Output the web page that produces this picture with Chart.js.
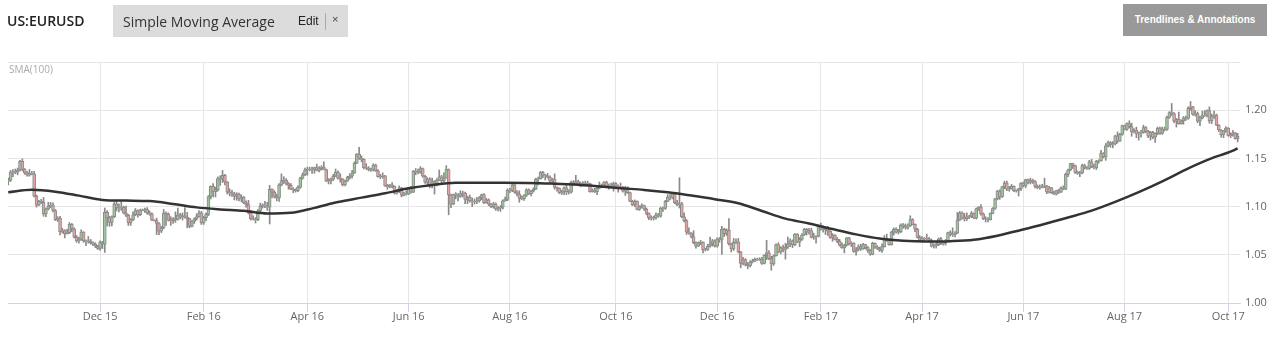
<!DOCTYPE html>
<html>
<head>
<meta charset="utf-8">
<script src="https://cdn.jsdelivr.net/npm/chart.js@4.4.0/dist/chart.umd.min.js"></script>
<style>
  body { margin: 0; background: #fff; font-family: "Open Sans", sans-serif; }
  #wrap { position: relative; width: 1282px; height: 349px; overflow: hidden; }
  #chart { position: absolute; left: 0; top: 0; }
  .symbol { position: absolute; left: 7px; top: 11px; font-size: 14px; font-weight: 600; color: #222; }
  .study { position: absolute; left: 113px; top: 5px; width: 235px; height: 32px; background: #dcdcdc; }
  .study .name { position: absolute; left: 10px; top: 7px; font-size: 14px; color: #333; }
  .study .edit { position: absolute; left: 185px; top: 9px; font: 12px "Liberation Sans", Arial, sans-serif; color: #222; }
  .study .sep { position: absolute; left: 212px; top: 8px; width: 1px; height: 17px; background: #aaa; }
  .study .close { position: absolute; left: 219px; top: 8px; font: 11px "Liberation Sans", Arial, sans-serif; color: #444; }
  .btn { position: absolute; left: 1123px; top: 4px; width: 144px; height: 32px; background: #999; color: #fff;
         font: bold 10px "Liberation Sans", Arial, sans-serif; line-height: 32px; text-align: center; }
  .sma-tag { position: absolute; left: 9px; top: 62px; font-size: 10px; color: #aaa; }
</style>
</head>
<body>
<div id="wrap">
  <canvas id="chart" width="1282" height="349"></canvas>
  <div class="symbol">US:EURUSD</div>
  <div class="study"><span class="name">Simple Moving Average</span><span class="edit">Edit</span><span class="sep"></span><span class="close">×</span></div>
  <div class="btn">Trendlines &amp; Annotations</div>
  <div class="sma-tag">SMA(100)</div>
</div>
<script>
// daily EUR/USD candles, one line per month (Oct 7 2015 .. Oct 6 2017)
const opens = [
  1.1265,1.1275,1.1360,1.1355,1.1360,1.1380,1.1470,1.1385,1.1350,1.1325,1.1345,1.1340,1.1110,1.1015,1.1055,1.1045,1.0925,1.0975,
  1.1005,1.1015,1.0960,1.0865,1.0880,1.0740,1.0750,1.0720,1.0730,1.0815,1.0770,1.0685,1.0645,1.0660,1.0735,1.0645,1.0635,1.0645,1.0625,1.0610,1.0590,
  1.0565,1.0630,1.0610,1.0940,1.0885,1.0835,1.0895,1.1025,1.0990,1.0985,1.0995,1.0935,1.0910,1.0830,1.0865,1.0915,1.0960,1.0915,1.0965,1.0960,1.0970,1.0935,1.0925,
  1.0860,1.0855,1.0825,1.0745,1.0780,1.0930,1.0920,1.0860,1.0855,1.0875,1.0865,1.0915,1.0890,1.0905,1.0890,1.0875,1.0795,1.0845,1.0870,1.0895,1.0935,
  1.0830,1.0885,1.0920,1.1105,1.1210,1.1155,1.1175,1.1290,1.1285,1.1325,1.1255,1.1150,1.1145,1.1130,1.1105,1.1130,1.1080,1.1100,1.1040,1.1020,1.0935,
  1.0875,1.0870,1.0865,1.0955,1.1005,1.1015,1.1005,1.0995,1.1180,1.1150,1.1105,1.1090,1.1225,1.1270,1.1275,1.1240,1.1220,1.1180,1.1175,1.1165,1.1200,1.1295,1.1330,
  1.1380,1.1390,1.1385,1.1380,1.1405,1.1375,1.1400,1.1410,1.1385,1.1265,1.1270,1.1285,1.1315,1.1355,1.1295,1.1285,1.1225,1.1265,1.1300,1.1315,1.1350,
  1.1450,1.1545,1.1500,1.1490,1.1405,1.1400,1.1385,1.1380,1.1430,1.1370,1.1310,1.1315,1.1320,1.1215,1.1205,1.1225,1.1210,1.1140,1.1155,1.1195,1.1115,1.1140,
  1.1130,1.1190,1.1150,1.1365,1.1355,1.1360,1.1395,1.1315,1.1250,1.1285,1.1215,1.1260,1.1225,1.1275,1.1310,1.1270,1.1295,1.1385,1.1120,1.1025,1.1125,1.1130,
  1.1105,1.1135,1.1140,1.1075,1.1095,1.1060,1.1050,1.1055,1.1060,1.1090,1.1125,1.1040,1.1070,1.1025,1.1000,1.1025,1.0975,1.0990,1.0995,1.1060,1.1075,
  1.1170,1.1165,1.1225,1.1150,1.1130,1.1085,1.1080,1.1115,1.1175,1.1135,1.1160,1.1180,1.1285,1.1290,1.1355,1.1325,1.1320,1.1305,1.1265,1.1285,1.1200,1.1190,1.1145,
  1.1155,1.1195,1.1155,1.1150,1.1255,1.1235,1.1260,1.1230,1.1240,1.1220,1.1245,1.1240,1.1155,1.1170,1.1155,1.1190,1.1210,1.1225,1.1255,1.1210,1.1215,1.1220,
  1.1240,1.1210,1.1205,1.1200,1.1160,1.1200,1.1145,1.1055,1.1020,1.1055,1.0970,1.1000,1.1010,1.0975,1.0930,1.0885,1.0880,1.0885,1.0915,1.0900,1.0985,
  1.0980,1.1055,1.1100,1.1090,1.1135,1.1040,1.1020,1.1030,1.0895,1.0855,1.0735,1.0725,1.0690,1.0625,1.0590,1.0625,1.0630,1.0550,1.0555,1.0590,1.0615,1.0645,
  1.0590,1.0665,1.0660,1.0765,1.0720,1.0755,1.0615,1.0560,1.0630,1.0635,1.0530,1.0410,1.0450,1.0400,1.0385,1.0425,1.0435,1.0455,1.0450,1.0455,1.0410,1.0495,
  1.0520,1.0460,1.0405,1.0490,1.0605,1.0530,1.0575,1.0555,1.0580,1.0615,1.0645,1.0605,1.0715,1.0630,1.0660,1.0705,1.0765,1.0735,1.0750,1.0680,1.0695,1.0690,
  1.0800,1.0765,1.0760,1.0785,1.0745,1.0680,1.0705,1.0660,1.0640,1.0600,1.0575,1.0600,1.0675,1.0615,1.0620,1.0535,1.0555,1.0585,1.0560,1.0605,
  1.0575,1.0545,1.0505,1.0620,1.0580,1.0565,1.0545,1.0585,1.0670,1.0655,1.0605,1.0735,1.0765,1.0735,1.0740,1.0810,1.0795,1.0785,1.0800,1.0865,1.0815,1.0765,1.0680,
  1.0650,1.0665,1.0670,1.0665,1.0645,1.0590,1.0595,1.0605,1.0665,1.0615,1.0620,1.0645,1.0730,1.0715,1.0710,1.0725,1.0860,1.0935,1.0880,1.0875,
  1.0895,1.0900,1.0930,1.0880,1.0980,1.0995,1.0925,1.0875,1.0870,1.0865,1.0930,1.0980,1.1080,1.1160,1.1100,1.1205,1.1245,1.1180,1.1185,1.1210,1.1165,1.1170,1.1185,
  1.1245,1.1215,1.1280,1.1250,1.1275,1.1260,1.1210,1.1195,1.1200,1.1210,1.1215,1.1150,1.1195,1.1145,1.1130,1.1165,1.1150,1.1195,1.1180,1.1335,1.1380,1.1445,
  1.1425,1.1355,1.1345,1.1350,1.1425,1.1400,1.1395,1.1465,1.1415,1.1400,1.1470,1.1475,1.1555,1.1515,1.1630,1.1665,1.1645,1.1650,1.1735,1.1680,1.1750,
  1.1840,1.1800,1.1860,1.1830,1.1775,1.1790,1.1755,1.1765,1.1770,1.1820,1.1780,1.1730,1.1770,1.1720,1.1760,1.1815,1.1760,1.1805,1.1800,1.1925,1.1975,1.1965,1.1885,
  1.1905,1.1860,1.1890,1.1920,1.1915,1.2020,1.2035,1.1955,1.1965,1.1885,1.1920,1.1945,1.1950,1.1995,1.1890,1.1940,1.1950,1.1845,1.1795,1.1745,1.1785,
  1.1815,1.1735,1.1745,1.1765,1.1705
];
const highs = [
  1.1295,1.1375,1.1385,1.1390,1.1400,1.1480,1.1495,1.1395,1.1365,1.1385,1.1365,1.1365,1.1120,1.1065,1.1075,1.1095,1.0985,1.1045,
  1.1045,1.1040,1.0970,1.0895,1.0900,1.0775,1.0760,1.0765,1.0835,1.0825,1.0780,1.0700,1.0685,1.0760,1.0740,1.0655,1.0690,1.0660,1.0635,1.0625,1.0600,
  1.0645,1.0640,1.0985,1.0960,1.0900,1.0905,1.1045,1.1060,1.1030,1.1050,1.1005,1.1005,1.0920,1.0875,1.0945,1.0980,1.0965,1.0975,1.0975,1.0985,1.0990,1.0955,1.0935,
  1.0865,1.0880,1.0835,1.0795,1.0970,1.0945,1.0935,1.0895,1.0885,1.0945,1.0985,1.0930,1.0935,1.0990,1.0940,1.0880,1.0855,1.0885,1.0925,1.0960,1.0950,
  1.0900,1.0935,1.1115,1.1215,1.1240,1.1200,1.1310,1.1320,1.1375,1.1335,1.1260,1.1185,1.1170,1.1150,1.1145,1.1140,1.1120,1.1105,1.1060,1.1065,1.0960,
  1.0905,1.0885,1.0970,1.1035,1.1030,1.1055,1.1045,1.1220,1.1185,1.1165,1.1130,1.1240,1.1340,1.1310,1.1290,1.1250,1.1240,1.1195,1.1185,1.1215,1.1305,1.1350,1.1400,
  1.1410,1.1410,1.1410,1.1410,1.1440,1.1415,1.1425,1.1465,1.1390,1.1290,1.1295,1.1335,1.1390,1.1370,1.1340,1.1290,1.1275,1.1315,1.1340,1.1375,1.1465,
  1.1550,1.1615,1.1525,1.1495,1.1445,1.1415,1.1400,1.1445,1.1440,1.1385,1.1335,1.1350,1.1325,1.1230,1.1230,1.1250,1.1215,1.1175,1.1215,1.1200,1.1150,1.1165,
  1.1200,1.1210,1.1375,1.1395,1.1390,1.1415,1.1400,1.1325,1.1300,1.1300,1.1295,1.1270,1.1290,1.1380,1.1325,1.1350,1.1425,1.1390,1.1130,1.1130,1.1145,1.1135,
  1.1165,1.1160,1.1150,1.1110,1.1120,1.1090,1.1080,1.1095,1.1105,1.1130,1.1135,1.1085,1.1080,1.1035,1.1045,1.1040,1.1000,1.1010,1.1070,1.1100,1.1185,
  1.1190,1.1235,1.1230,1.1165,1.1165,1.1110,1.1125,1.1185,1.1185,1.1170,1.1195,1.1295,1.1305,1.1365,1.1365,1.1335,1.1345,1.1320,1.1295,1.1340,1.1205,1.1195,1.1170,
  1.1205,1.1240,1.1175,1.1265,1.1270,1.1325,1.1275,1.1255,1.1260,1.1265,1.1265,1.1245,1.1185,1.1190,1.1210,1.1255,1.1235,1.1260,1.1265,1.1235,1.1245,1.1255,
  1.1250,1.1225,1.1245,1.1210,1.1210,1.1205,1.1150,1.1065,1.1070,1.1060,1.1010,1.1030,1.1015,1.0985,1.0935,1.0905,1.0900,1.0935,1.0930,1.0995,1.0995,
  1.1065,1.1125,1.1125,1.1145,1.1140,1.1065,1.1300,1.1045,1.0935,1.0865,1.0780,1.0730,1.0750,1.0635,1.0635,1.0650,1.0635,1.0570,1.0610,1.0685,1.0660,1.0655,
  1.0675,1.0680,1.0795,1.0775,1.0770,1.0875,1.0620,1.0670,1.0665,1.0670,1.0535,1.0475,1.0460,1.0420,1.0440,1.0455,1.0465,1.0465,1.0470,1.0475,1.0500,1.0650,
  1.0545,1.0485,1.0500,1.0615,1.0625,1.0585,1.0600,1.0620,1.0685,1.0665,1.0655,1.0720,1.0720,1.0680,1.0720,1.0775,1.0775,1.0775,1.0775,1.0725,1.0700,1.0810,
  1.0830,1.0800,1.0790,1.0795,1.0750,1.0720,1.0710,1.0680,1.0660,1.0625,1.0610,1.0680,1.0680,1.0635,1.0625,1.0575,1.0605,1.0610,1.0620,1.0610,
  1.0585,1.0555,1.0630,1.0625,1.0595,1.0580,1.0615,1.0700,1.0715,1.0660,1.0745,1.0780,1.0780,1.0765,1.0820,1.0825,1.0820,1.0820,1.0905,1.0875,1.0820,1.0775,1.0700,
  1.0690,1.0680,1.0715,1.0680,1.0665,1.0615,1.0630,1.0675,1.0680,1.0625,1.0660,1.0735,1.0750,1.0780,1.0740,1.0940,1.0950,1.0945,1.0930,1.0935,
  1.0910,1.0950,1.0935,1.0985,1.1000,1.1020,1.0935,1.0895,1.0885,1.0935,1.0990,1.1085,1.1170,1.1175,1.1210,1.1265,1.1265,1.1210,1.1230,1.1215,1.1175,1.1190,1.1250,
  1.1255,1.1285,1.1285,1.1295,1.1285,1.1270,1.1225,1.1225,1.1230,1.1295,1.1220,1.1210,1.1200,1.1160,1.1170,1.1180,1.1205,1.1215,1.1350,1.1390,1.1450,1.1450,
  1.1430,1.1370,1.1365,1.1440,1.1440,1.1415,1.1480,1.1490,1.1440,1.1480,1.1485,1.1585,1.1560,1.1655,1.1680,1.1675,1.1675,1.1740,1.1775,1.1760,1.1845,
  1.1845,1.1870,1.1890,1.1865,1.1810,1.1825,1.1775,1.1790,1.1845,1.1830,1.1790,1.1780,1.1780,1.1765,1.1825,1.1825,1.1825,1.1825,1.1940,1.1985,1.2070,1.1975,1.1915,
  1.1980,1.1900,1.1935,1.1940,1.2035,1.2090,1.2040,1.1995,1.1980,1.1940,1.1990,1.1995,1.2005,1.2035,1.1960,1.1990,1.1960,1.1850,1.1800,1.1790,1.1830,
  1.1820,1.1765,1.1790,1.1770,1.1760
];
const lows = [
  1.1225,1.1260,1.1310,1.1340,1.1330,1.1370,1.1370,1.1335,1.1315,1.1315,1.1330,1.1100,1.0995,1.1010,1.1030,1.0900,1.0895,1.0965,
  1.0990,1.0945,1.0855,1.0845,1.0705,1.0725,1.0675,1.0715,1.0720,1.0740,1.0675,1.0630,1.0620,1.0650,1.0630,1.0595,1.0620,1.0610,1.0595,1.0575,1.0555,
  1.0545,1.0565,1.0525,1.0800,1.0795,1.0800,1.0885,1.0955,1.0945,1.0960,1.0925,1.0895,1.0805,1.0805,1.0855,1.0905,1.0890,1.0905,1.0955,1.0940,1.0920,1.0910,1.0855,
  1.0850,1.0710,1.0710,1.0730,1.0770,1.0805,1.0850,1.0805,1.0825,1.0835,1.0860,1.0875,1.0860,1.0880,1.0780,1.0780,1.0790,1.0825,1.0860,1.0890,1.0815,
  1.0815,1.0855,1.0905,1.1080,1.1100,1.1100,1.1160,1.1220,1.1250,1.1225,1.1130,1.1110,1.1105,1.1070,1.1065,1.1060,1.1050,1.1030,1.0995,1.0925,1.0860,
  1.0860,1.0830,1.0855,1.0935,1.0985,1.0990,1.0960,1.0820,1.1090,1.1090,1.1060,1.1055,1.1215,1.1240,1.1225,1.1180,1.1175,1.1145,1.1150,1.1155,1.1190,1.1285,1.1320,
  1.1325,1.1370,1.1345,1.1345,1.1370,1.1360,1.1380,1.1380,1.1260,1.1235,1.1235,1.1270,1.1310,1.1285,1.1255,1.1215,1.1215,1.1260,1.1285,1.1295,1.1345,
  1.1445,1.1490,1.1465,1.1390,1.1385,1.1370,1.1365,1.1370,1.1365,1.1305,1.1290,1.1295,1.1210,1.1180,1.1195,1.1195,1.1130,1.1130,1.1145,1.1100,1.1110,1.1120,
  1.1125,1.1140,1.1145,1.1330,1.1340,1.1345,1.1305,1.1240,1.1225,1.1195,1.1195,1.1130,1.1215,1.1270,1.1235,1.1255,1.1295,1.0915,1.0990,1.1020,1.1080,1.1060,
  1.1095,1.1100,1.1030,1.1030,1.1045,1.1000,1.1025,1.1030,1.1045,1.1070,1.1030,1.1035,1.1010,1.0990,1.0985,1.0960,1.0955,1.0950,1.0975,1.1055,1.1060,
  1.1145,1.1155,1.1140,1.1110,1.1045,1.1070,1.1065,1.1105,1.1125,1.1110,1.1150,1.1175,1.1225,1.1285,1.1300,1.1275,1.1295,1.1250,1.1250,1.1180,1.1160,1.1135,1.1125,
  1.1125,1.1125,1.1130,1.1140,1.1225,1.1230,1.1215,1.1205,1.1215,1.1215,1.1215,1.1150,1.1150,1.1145,1.1125,1.1185,1.1195,1.1205,1.1200,1.1180,1.1195,1.1160,
  1.1200,1.1150,1.1195,1.1150,1.1115,1.1135,1.1050,1.1010,1.1000,1.0965,1.0960,1.0985,1.0960,1.0915,1.0865,1.0860,1.0860,1.0870,1.0890,1.0890,1.0950,
  1.0970,1.1050,1.1070,1.1080,1.1030,1.1010,1.0985,1.0885,1.0840,1.0710,1.0715,1.0675,1.0615,1.0570,1.0585,1.0605,1.0520,1.0540,1.0545,1.0580,1.0590,1.0580,
  1.0580,1.0630,1.0505,1.0690,1.0700,1.0600,1.0530,1.0545,1.0615,1.0520,1.0365,1.0395,1.0385,1.0355,1.0375,1.0415,1.0430,1.0440,1.0440,1.0400,1.0405,1.0450,
  1.0450,1.0340,1.0390,1.0485,1.0520,1.0510,1.0530,1.0455,1.0565,1.0585,1.0575,1.0595,1.0625,1.0585,1.0650,1.0700,1.0705,1.0715,1.0675,1.0660,1.0620,1.0685,
  1.0755,1.0735,1.0710,1.0700,1.0670,1.0640,1.0655,1.0625,1.0590,1.0565,1.0520,1.0590,1.0600,1.0585,1.0525,1.0495,1.0540,1.0545,1.0555,1.0560,
  1.0525,1.0495,1.0500,1.0565,1.0555,1.0535,1.0525,1.0580,1.0640,1.0600,1.0600,1.0705,1.0725,1.0715,1.0730,1.0775,1.0765,1.0765,1.0795,1.0810,1.0740,1.0675,1.0640,
  1.0630,1.0635,1.0655,1.0635,1.0580,1.0570,1.0570,1.0595,1.0605,1.0600,1.0600,1.0635,1.0695,1.0690,1.0685,1.0720,1.0855,1.0870,1.0850,1.0855,
  1.0875,1.0885,1.0875,1.0870,1.0960,1.0910,1.0865,1.0840,1.0840,1.0860,1.0925,1.0970,1.1070,1.1075,1.1095,1.1185,1.1165,1.1160,1.1180,1.1155,1.1150,1.1110,1.1165,
  1.1205,1.1195,1.1235,1.1235,1.1240,1.1195,1.1185,1.1180,1.1195,1.1195,1.1135,1.1140,1.1135,1.1125,1.1120,1.1135,1.1145,1.1175,1.1175,1.1310,1.1370,1.1395,
  1.1345,1.1335,1.1310,1.1340,1.1390,1.1385,1.1385,1.1405,1.1390,1.1385,1.1450,1.1470,1.1505,1.1480,1.1620,1.1615,1.1610,1.1640,1.1660,1.1675,1.1740,
  1.1795,1.1790,1.1815,1.1730,1.1765,1.1715,1.1690,1.1720,1.1760,1.1765,1.1715,1.1690,1.1705,1.1665,1.1745,1.1750,1.1750,1.1785,1.1790,1.1915,1.1945,1.1870,1.1825,
  1.1855,1.1855,1.1855,1.1895,1.1905,1.2000,1.1945,1.1940,1.1870,1.1840,1.1910,1.1935,1.1930,1.1865,1.1860,1.1915,1.1840,1.1780,1.1720,1.1715,1.1770,
  1.1730,1.1715,1.1730,1.1700,1.1670
];
const closes = [
  1.1275,1.1360,1.1355,1.1360,1.1380,1.1470,1.1385,1.1350,1.1325,1.1345,1.1340,1.1110,1.1015,1.1055,1.1045,1.0925,1.0975,1.1005,
  1.1015,1.0960,1.0865,1.0880,1.0740,1.0750,1.0720,1.0730,1.0815,1.0770,1.0685,1.0645,1.0660,1.0735,1.0645,1.0635,1.0645,1.0625,1.0610,1.0590,1.0565,
  1.0630,1.0610,1.0940,1.0885,1.0835,1.0895,1.1025,1.0990,1.0985,1.0995,1.0935,1.0910,1.0830,1.0865,1.0915,1.0960,1.0915,1.0965,1.0960,1.0970,1.0935,1.0925,1.0860,
  1.0855,1.0825,1.0745,1.0780,1.0930,1.0920,1.0860,1.0855,1.0875,1.0865,1.0915,1.0890,1.0905,1.0890,1.0875,1.0795,1.0845,1.0870,1.0895,1.0935,1.0830,
  1.0885,1.0920,1.1105,1.1210,1.1155,1.1175,1.1290,1.1285,1.1325,1.1255,1.1150,1.1145,1.1130,1.1105,1.1130,1.1080,1.1100,1.1040,1.1020,1.0935,1.0875,
  1.0870,1.0865,1.0955,1.1005,1.1015,1.1005,1.0995,1.1180,1.1150,1.1105,1.1090,1.1225,1.1270,1.1275,1.1240,1.1220,1.1180,1.1175,1.1165,1.1200,1.1295,1.1330,1.1380,
  1.1390,1.1385,1.1380,1.1405,1.1375,1.1400,1.1410,1.1385,1.1265,1.1270,1.1285,1.1315,1.1355,1.1295,1.1285,1.1225,1.1265,1.1300,1.1315,1.1350,1.1450,
  1.1545,1.1500,1.1490,1.1405,1.1400,1.1385,1.1380,1.1430,1.1370,1.1310,1.1315,1.1320,1.1215,1.1205,1.1225,1.1210,1.1140,1.1155,1.1195,1.1115,1.1140,1.1130,
  1.1190,1.1150,1.1365,1.1355,1.1360,1.1395,1.1315,1.1250,1.1285,1.1215,1.1260,1.1225,1.1275,1.1310,1.1270,1.1295,1.1385,1.1120,1.1025,1.1125,1.1130,1.1105,
  1.1135,1.1140,1.1075,1.1095,1.1060,1.1050,1.1055,1.1060,1.1090,1.1125,1.1040,1.1070,1.1025,1.1000,1.1025,1.0975,1.0990,1.0995,1.1060,1.1075,1.1170,
  1.1165,1.1225,1.1150,1.1130,1.1085,1.1080,1.1115,1.1175,1.1135,1.1160,1.1180,1.1285,1.1290,1.1355,1.1325,1.1320,1.1305,1.1265,1.1285,1.1200,1.1190,1.1145,1.1155,
  1.1195,1.1155,1.1150,1.1255,1.1235,1.1260,1.1230,1.1240,1.1220,1.1245,1.1240,1.1155,1.1170,1.1155,1.1190,1.1210,1.1225,1.1255,1.1210,1.1215,1.1220,1.1240,
  1.1210,1.1205,1.1200,1.1160,1.1200,1.1145,1.1055,1.1020,1.1055,1.0970,1.1000,1.1010,1.0975,1.0930,1.0885,1.0880,1.0885,1.0915,1.0900,1.0985,1.0980,
  1.1055,1.1100,1.1090,1.1135,1.1040,1.1020,1.1030,1.0895,1.0855,1.0735,1.0725,1.0690,1.0625,1.0590,1.0625,1.0630,1.0550,1.0555,1.0590,1.0615,1.0645,1.0590,
  1.0665,1.0660,1.0765,1.0720,1.0755,1.0615,1.0560,1.0630,1.0635,1.0530,1.0410,1.0450,1.0400,1.0385,1.0425,1.0435,1.0455,1.0450,1.0455,1.0410,1.0495,1.0520,
  1.0460,1.0405,1.0490,1.0605,1.0530,1.0575,1.0555,1.0580,1.0615,1.0645,1.0605,1.0715,1.0630,1.0660,1.0705,1.0765,1.0735,1.0750,1.0680,1.0695,1.0690,1.0800,
  1.0765,1.0760,1.0785,1.0745,1.0680,1.0705,1.0660,1.0640,1.0600,1.0575,1.0600,1.0675,1.0615,1.0620,1.0535,1.0555,1.0585,1.0560,1.0605,1.0575,
  1.0545,1.0505,1.0620,1.0580,1.0565,1.0545,1.0585,1.0670,1.0655,1.0605,1.0735,1.0765,1.0735,1.0740,1.0810,1.0795,1.0785,1.0800,1.0865,1.0815,1.0765,1.0680,1.0650,
  1.0665,1.0670,1.0665,1.0645,1.0590,1.0595,1.0605,1.0665,1.0615,1.0620,1.0645,1.0730,1.0715,1.0710,1.0725,1.0860,1.0935,1.0880,1.0875,1.0895,
  1.0900,1.0930,1.0880,1.0980,1.0995,1.0925,1.0875,1.0870,1.0865,1.0930,1.0980,1.1080,1.1160,1.1100,1.1205,1.1245,1.1180,1.1185,1.1210,1.1165,1.1170,1.1185,1.1245,
  1.1215,1.1280,1.1250,1.1275,1.1260,1.1210,1.1195,1.1200,1.1210,1.1215,1.1150,1.1195,1.1145,1.1130,1.1165,1.1150,1.1195,1.1180,1.1335,1.1380,1.1445,1.1425,
  1.1355,1.1345,1.1350,1.1425,1.1400,1.1395,1.1465,1.1415,1.1400,1.1470,1.1475,1.1555,1.1515,1.1630,1.1665,1.1645,1.1650,1.1735,1.1680,1.1750,1.1840,
  1.1800,1.1860,1.1830,1.1775,1.1790,1.1755,1.1765,1.1770,1.1820,1.1780,1.1730,1.1770,1.1720,1.1760,1.1815,1.1760,1.1805,1.1800,1.1925,1.1975,1.1965,1.1885,1.1905,
  1.1860,1.1890,1.1920,1.1915,1.2020,1.2035,1.1955,1.1965,1.1885,1.1920,1.1945,1.1950,1.1995,1.1890,1.1940,1.1950,1.1845,1.1795,1.1745,1.1785,1.1815,
  1.1735,1.1745,1.1765,1.1705,1.1730
];

// SMA(100) every 10 sessions
const smaDay = [0,10,20,30,40,50,60,70,80,90,100,110,120,130,140,150,160,170,180,190,200,210,220,230,240,250,
  260,270,280,290,300,310,320,330,340,350,360,370,380,390,400,410,420,430,440,450,460,470,480,490,500,510,520,522];
const smaValue = [1.1149,1.1175,1.1155,1.1114,1.1069,1.1062,1.1057,1.1028,1.0992,1.0971,1.0956,1.0928,1.0935,1.0987,
  1.1047,1.1093,1.1138,1.1190,1.1225,1.1247,1.1248,1.1248,1.1246,1.1240,1.1228,1.1211,1.1191,1.1173,1.1148,1.1114,
  1.1077,1.1035,1.0955,1.0875,1.0825,1.0767,1.0712,1.0668,1.0645,1.0637,1.0641,1.0656,1.0698,1.0757,1.0819,1.0887,
  1.0958,1.1049,1.1150,1.1262,1.1384,1.1492,1.1580,1.1605];

const tickLabels = ['Dec 15','Feb 16','Apr 16','Jun 16','Aug 16','Oct 16','Dec 16','Feb 17','Apr 17','Jun 17','Aug 17','Oct 17'];
const priceTicks = [1.00, 1.05, 1.10, 1.15, 1.20, 1.25];

// trading sessions (weekdays) from the first candle
const monthNames = ['Jan','Feb','Mar','Apr','May','Jun','Jul','Aug','Sep','Oct','Nov','Dec'];
const days = [];
for (let t = Date.UTC(2015, 9, 7); days.length < closes.length; t += 86400000) {
  const d = new Date(t);
  if (d.getUTCDay() !== 0 && d.getUTCDay() !== 6) days.push(d);
}
const monthLabel = d => monthNames[d.getUTCMonth()] + ' ' + String(d.getUTCFullYear()).slice(2);
const tickDays = tickLabels.map(l => days.findIndex(d => monthLabel(d) === l));

const upColor = '#9cc79c';
const downColor = '#e6a3a3';
const edgeColor = '#8a8a8a';

Chart.defaults.font.family = '"Open Sans", sans-serif';

new Chart(document.getElementById('chart'), {
  type: 'bar',
  data: {
    datasets: [
      {
        type: 'line',
        label: 'SMA(100)',
        data: smaDay.map((d, k) => ({ x: d, y: smaValue[k] })),
        borderColor: '#333',
        borderWidth: 2.5,
        pointRadius: 0,
        cubicInterpolationMode: 'monotone',
        order: 0
      },
      {
        label: 'body',
        data: closes.map((c, i) => ({ x: i, y: [opens[i], c] })),
        backgroundColor: closes.map((c, i) => c >= opens[i] ? upColor : downColor),
        borderColor: edgeColor,
        borderWidth: 1,
        borderSkipped: false,
        barThickness: 3,
        grouped: false,
        order: 1
      },
      {
        label: 'wick',
        data: highs.map((h, i) => ({ x: i, y: [lows[i], h] })),
        backgroundColor: edgeColor,
        barThickness: 1,
        grouped: false,
        order: 2
      }
    ]
  },
  options: {
    responsive: false,
    animation: false,
    events: [],
    layout: { padding: { left: 8, top: 62, right: 0, bottom: 0 } },
    plugins: { legend: { display: false }, tooltip: { enabled: false } },
    scales: {
      x: {
        type: 'linear',
        min: -0.1,
        max: 523,
        offset: false,
        grid: { color: '#e6e6e6', tickColor: '#ccd6eb', tickLength: 9, offset: false },
        border: { color: '#ccd6eb' },
        afterBuildTicks: axis => { axis.ticks = tickDays.map(v => ({ value: v })); },
        afterFit: axis => { axis.height = 46; },
        ticks: {
          autoSkip: false,
          maxRotation: 0,
          padding: -2,
          color: '#666',
          font: { size: 11 },
          callback: v => tickLabels[tickDays.indexOf(v)] || ''
        }
      },
      y: {
        position: 'right',
        min: 1.00,
        max: 1.25,
        grid: { color: '#e6e6e6', drawTicks: false },
        border: { display: false },
        afterBuildTicks: axis => { axis.ticks = priceTicks.map(v => ({ value: v })); },
        afterFit: axis => { axis.width = 42; },
        ticks: {
          padding: 5,
          color: '#666',
          font: { size: 11 },
          callback: v => v > 1.24 ? '' : v.toFixed(2)
        }
      }
    }
  }
});
</script>
</body>
</html>
